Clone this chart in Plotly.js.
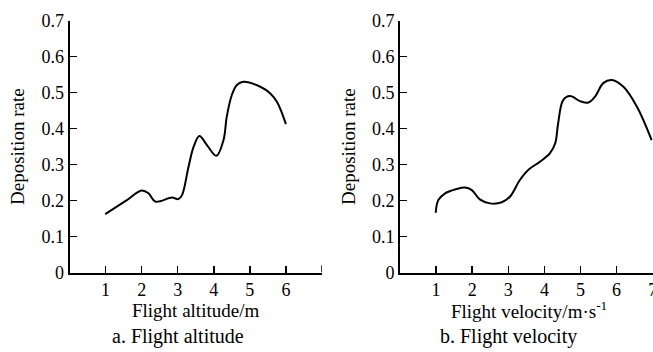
<!DOCTYPE html>
<html>
<head>
<meta charset="utf-8">
<script src="https://cdn.plot.ly/plotly-3.0.1.min.js"></script>
<style>html,body{margin:0;padding:0;background:#fff;}#chart{width:653px;height:352px;}</style>
</head>
<body>
<div id="chart"></div>
<script>
// Panel a: Flight altitude
const altitudeX = [0.99, 1.59, 2.0, 2.19, 2.38, 2.84, 3.02, 3.12, 3.3, 3.44, 3.6, 3.81, 4.07, 4.27, 4.36, 4.5, 4.64, 4.82, 5.29, 5.56, 5.75, 6.0];
const altitudeY = [0.162, 0.201, 0.228, 0.220, 0.197, 0.208, 0.204, 0.215, 0.294, 0.349, 0.379, 0.354, 0.324, 0.368, 0.433, 0.493, 0.521, 0.530, 0.516, 0.498, 0.474, 0.412];
// Panel b: Flight velocity
const velocityX = [0.99, 1.06, 1.25, 1.57, 1.8, 1.99, 2.21, 2.49, 2.82, 3.05, 3.32, 3.55, 3.88, 4.15, 4.3, 4.38, 4.52, 4.71, 4.99, 5.22, 5.4, 5.63, 5.86, 6.19, 6.56, 6.97];
const velocityY = [0.166, 0.201, 0.220, 0.232, 0.236, 0.229, 0.203, 0.192, 0.195, 0.211, 0.257, 0.285, 0.308, 0.331, 0.359, 0.414, 0.479, 0.490, 0.476, 0.472, 0.488, 0.526, 0.535, 0.516, 0.461, 0.368];

const yTickVals = [0, 0.1, 0.2, 0.3, 0.4, 0.5, 0.6, 0.7];
const yTickText = ['0', '0.1', '0.2', '0.3', '0.4', '0.5', '0.6', '0.7'];
const xTickValsA = [1, 2, 3, 4, 5, 6];
const xTickTextA = ['1', '2', '3', '4', '5', '6'];
const xTickValsB = [1, 2, 3, 4, 5, 6, 7];
const xTickTextB = ['1', '2', '3', '4', '5', '6', '7'];

const yTitle = 'Deposition rate';
const xTitleA = 'Flight altitude/m';
const xTitleB = 'Flight velocity/m·s<sup>-1</sup>';
const captionA = 'a. Flight altitude';
const captionB = 'b. Flight velocity';

const W = 653, H = 352;
const FONT = '"Liberation Serif", "Times New Roman", serif';

const lineStyle = {color: '#000', width: 2, shape: 'spline', smoothing: 1};
const traces = [
  {x: altitudeX, y: altitudeY, mode: 'lines', line: lineStyle, xaxis: 'x', yaxis: 'y', hoverinfo: 'skip'},
  {x: velocityX, y: velocityY, mode: 'lines', line: lineStyle, xaxis: 'x2', yaxis: 'y2', hoverinfo: 'skip'}
];

function xAxis(domain, tickvals, ticktext, anchor) {
  return {
    domain: domain, range: [0, 7], anchor: anchor,
    tickmode: 'array', tickvals: tickvals, ticktext: ticktext,
    ticks: 'inside', ticklen: 7, tickwidth: 1.5, tickcolor: '#000',
    showline: true, linecolor: '#000', linewidth: 2,
    showgrid: false, zeroline: false, ticklabeloverflow: 'allow',
    tickfont: {family: FONT, size: 18, color: '#000'}, fixedrange: true
  };
}
function yAxis(anchor) {
  return {
    domain: [(H - 272.5) / H, (H - 20.5) / H], range: [0, 0.7], anchor: anchor,
    tickmode: 'array', tickvals: yTickVals, ticktext: yTickText,
    ticks: 'inside', ticklen: 7, tickwidth: 1.5, tickcolor: '#000',
    showline: true, linecolor: '#000', linewidth: 2,
    showgrid: false, zeroline: false, ticklabeloverflow: 'allow',
    tickfont: {family: FONT, size: 18, color: '#000'}, fixedrange: true
  };
}

const tf = {family: FONT, size: 19, color: '#000'};
const cf = {family: FONT, size: 20, color: '#000'};
const ann = (text, x, y, font, angle) => ({
  text: text, xref: 'paper', yref: 'paper', x: x / W, y: 1 - y / H,
  xanchor: 'center', yanchor: 'middle', showarrow: false, font: font, textangle: angle || 0
});

const layout = {
  width: W, height: H,
  margin: {l: 0, r: 0, t: 0, b: 0},
  paper_bgcolor: '#fff', plot_bgcolor: '#fff',
  showlegend: false,
  xaxis: xAxis([69.5 / W, 322 / W], xTickValsA, xTickTextA, 'y'),
  yaxis: yAxis('x'),
  xaxis2: xAxis([400 / W, 652.7 / W], xTickValsB, xTickTextB, 'y2'),
  yaxis2: yAxis('x2'),
  shapes: [
    // tick mark at x = 7 on panel a (unlabelled in the reference)
    {type: 'line', xref: 'x', yref: 'y', x0: 7, x1: 7, y0: 0, y1: 0.02, line: {color: '#000', width: 1.5}}
  ],
  annotations: [
    ann(xTitleA, 195, 310, tf),
    ann(xTitleB, 529, 310, tf),
    ann(captionA, 178, 336, cf),
    ann(captionB, 508, 336, cf),
    ann(yTitle, 17, 147, tf, -90),
    ann(yTitle, 348, 147, tf, -90)
  ]
};

Plotly.newPlot('chart', traces, layout, {displayModeBar: false, staticPlot: true});
</script>
</body>
</html>
